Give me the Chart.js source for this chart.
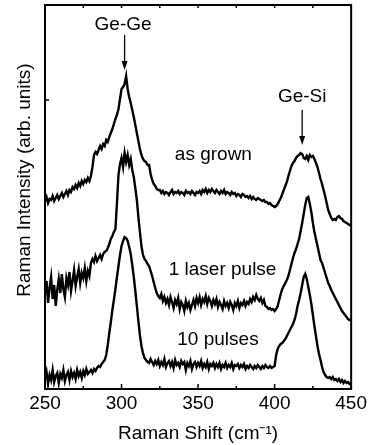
<!DOCTYPE html>
<html>
<head>
<meta charset="utf-8">
<script src="https://cdn.jsdelivr.net/npm/chart.js@4.4.1/dist/chart.umd.min.js"></script>
<style>
  html, body { margin: 0; padding: 0; background: #fff; }
  #wrap { width: 370px; height: 445px; }
</style>
</head>
<body>
<div id="wrap"><canvas id="ramanChart"></canvas></div>
<script>
// Raman shift axis (cm-1), one value per cm-1
const shift = []
for (let s = 250; s <= 450; s++) shift.push(s)

// intensities (arb. units, traces offset)
const asGrown = [
  188, 192, 186, 190, 189, 193, 188, 191, 194, 190,
  193, 196, 192, 195, 198, 194, 199, 197, 202, 200,
  204, 201, 206, 203, 208, 205, 209, 207, 211, 208,
  213, 222, 234, 237, 235, 239, 243, 240, 245, 243,
  249, 247, 252, 256, 260, 265, 270, 274, 280, 290,
  300, 302, 305, 313, 300, 292, 286, 279, 272, 264,
  256, 248, 240, 234, 230, 228, 227, 224, 224, 215,
  209, 205, 203, 200, 199, 199, 196, 198, 195, 197,
  196, 194, 197, 199, 195, 197, 196, 198, 195, 197,
  196, 194, 198, 196, 197, 195, 198, 196, 194, 197,
  196, 198, 195, 199, 197, 200, 196, 199, 197, 200,
  198, 196, 199, 197, 195, 198, 196, 199, 195, 197,
  196, 194, 197, 195, 196, 193, 195, 194, 192, 195,
  194, 192, 193, 191, 193, 190, 192, 190, 189, 191,
  190, 189, 188, 189, 187, 187, 185, 186, 184, 183,
  182, 183, 185, 188, 191, 195, 199, 203, 207, 213,
  218, 223, 226, 228, 231, 233, 234, 236, 235, 231,
  230, 233, 229, 234, 232, 233, 230, 226, 222, 216,
  210, 205, 199, 193, 186, 179, 175, 171, 169, 170,
  169, 172, 173, 171, 170, 168, 167, 166, 165, 164,
  163,
]
const onePulse = [
  95, 108, 86, 101, 112, 90, 104, 83, 99, 110,
  96, 115, 100, 92, 111, 104, 117, 98, 108, 119,
  103, 112, 120, 106, 116, 111, 121, 108, 118, 113,
  126, 130, 127, 133, 128, 131, 134, 130, 135, 137,
  138, 141, 145, 150, 153, 157, 160, 186, 214, 225,
  231, 222, 236, 227, 234, 224, 230, 219, 212, 201,
  189, 172, 157, 143, 134, 130, 128, 125, 123, 118,
  113, 107, 101, 96, 93, 91, 95, 88, 92, 86,
  90, 84, 92, 87, 81, 89, 85, 91, 80, 87,
  84, 78, 88, 82, 86, 79, 84, 89, 83, 91,
  86, 92, 84, 90, 87, 93, 85, 91, 88, 83,
  89, 85, 90, 82, 87, 84, 80, 88, 83, 86,
  81, 87, 84, 79, 86, 83, 88, 81, 86, 84,
  88, 83, 87, 85, 90, 87, 92, 89, 94, 90,
  88, 91, 86, 89, 83, 82, 80, 81, 79, 80,
  78, 80, 83, 89, 95, 100, 103, 106, 109, 113,
  119, 125, 131, 136, 140, 145, 150, 158, 166, 175,
  184, 191, 192, 185, 177, 166, 157, 150, 143, 136,
  129, 126, 121, 116, 111, 106, 103, 99, 96, 93,
  90, 87, 84, 81, 78, 76, 74, 72, 70, 69,
  68,
]
const tenPulses = [
  10, 17, 5, 14, 9, 19, 7, 13, 16, 6,
  15, 11, 19, 8, 14, 17, 9, 18, 12, 16,
  10, 19, 13, 17, 11, 18, 14, 20, 15, 17,
  19, 16, 20, 18, 21, 23, 22, 25, 27, 29,
  34, 44, 56, 67, 79, 89, 100, 112, 123, 134,
  143, 148, 152, 151, 148, 142, 135, 124, 112, 98,
  83, 68, 54, 43, 36, 31, 29, 27, 26, 30,
  27, 24, 28, 25, 29, 23, 27, 24, 30, 22,
  26, 28, 23, 27, 21, 29, 24, 26, 22, 28,
  25, 27, 19, 26, 23, 28, 20, 25, 27, 22,
  26, 23, 28, 21, 25, 22, 27, 20, 25, 23,
  26, 21, 25, 22, 26, 20, 24, 22, 26, 21,
  24, 22, 26, 20, 24, 23, 25, 21, 24, 22,
  25, 20, 23, 21, 24, 22, 20, 23, 21, 24,
  22, 20, 23, 21, 24, 22, 21, 23, 21, 22,
  23, 34, 40, 43, 45, 46, 48, 50, 53, 56,
  59, 62, 65, 69, 75, 83, 89, 96, 104, 112,
  115, 110, 102, 94, 85, 74, 63, 53, 43, 35,
  29, 22, 17, 14, 12, 11, 12, 10, 12, 9,
  10, 8, 10, 7, 9, 6, 8, 6, 7, 5,
  6,
]

const xTicks = [250, 300, 350, 400, 450]
const xMinor = [275, 325, 375, 425]

// text labels: [text, shift, intensity]
const traceLabels = [
  ['as grown', 360, 234],
  ['1 laser pulse', 366, 119],
  ['10 pulses', 363, 49],
]
const peakLabels = [
  ['Ge-Ge', 301, 364],
  ['Ge-Si', 418, 292],
]
// arrows: [shift, from, to]
const peakArrows = [
  [302, 354, 319],
  [418, 279, 244],
]

const FONT = 'Liberation Sans, Arial, sans-serif'

const toPoints = (ys) => ys.map((y, i) => ({ x: shift[i], y }))

const frame = {
  id: 'frame',
  afterDatasetsDraw(chart) {
    const { ctx, chartArea: a, scales } = chart
    const xs = scales.x
    const ys = scales.y
    ctx.save()
    ctx.strokeStyle = '#000'
    ctx.fillStyle = '#000'
    ctx.lineWidth = 2
    ctx.strokeRect(a.left, a.top, a.right - a.left, a.bottom - a.top)

    ctx.lineWidth = 1.5
    ctx.beginPath()
    xTicks.forEach((v) => {
      const px = xs.getPixelForValue(v)
      ctx.moveTo(px, a.bottom)
      ctx.lineTo(px, a.bottom - 5)
      ctx.moveTo(px, a.top)
      ctx.lineTo(px, a.top + 3)
    })
    xMinor.forEach((v) => {
      const px = xs.getPixelForValue(v)
      ctx.moveTo(px, a.bottom)
      ctx.lineTo(px, a.bottom - 3)
      ctx.moveTo(px, a.top)
      ctx.lineTo(px, a.top + 3)
    })
    const yt = ys.getPixelForValue(289)
    ctx.moveTo(a.left, yt)
    ctx.lineTo(a.left + 4, yt)
    ctx.stroke()

    // labels
    ctx.font = '19px ' + FONT
    ctx.textAlign = 'center'
    ctx.textBaseline = 'middle'
    traceLabels.concat(peakLabels).forEach(([t, sx, sy]) => {
      ctx.fillText(t, xs.getPixelForValue(sx), ys.getPixelForValue(sy))
    })

    // y axis title, sits a bit above the middle like the original
    ctx.save()
    ctx.translate(25, 180)
    ctx.rotate(-Math.PI / 2)
    ctx.fillText('Raman Intensity (arb. units)', 0, 0)
    ctx.restore()

    // arrows
    ctx.lineWidth = 1.3
    peakArrows.forEach(([sx, y0, y1]) => {
      const px = xs.getPixelForValue(sx)
      const p0 = ys.getPixelForValue(y0)
      const p1 = ys.getPixelForValue(y1)
      ctx.beginPath()
      ctx.moveTo(px, p0)
      ctx.lineTo(px, p1 - 6)
      ctx.stroke()
      ctx.beginPath()
      ctx.moveTo(px, p1)
      ctx.lineTo(px - 3, p1 - 9)
      ctx.lineTo(px + 3, p1 - 9)
      ctx.closePath()
      ctx.fill()
    })
    ctx.restore()
  },
}

const line = (label, ys) => ({
  label,
  data: toPoints(ys),
  borderColor: '#000',
  borderWidth: 2.4,
  pointRadius: 0,
  tension: 0,
})

new Chart(document.getElementById('ramanChart'), {
  type: 'line',
  data: {
    datasets: [
      line('as grown', asGrown),
      line('1 laser pulse', onePulse),
      line('10 pulses', tenPulses),
    ],
  },
  options: {
    responsive: true,
    maintainAspectRatio: false,
    animation: false,
    layout: { padding: { top: 5, right: 17, left: 0, bottom: 0 } },
    plugins: {
      legend: { display: false },
      tooltip: { enabled: false },
    },
    scales: {
      x: {
        type: 'linear',
        min: 250,
        max: 450,
        afterFit: (s) => { s.height = 56 },
        afterBuildTicks: (s) => { s.ticks = xTicks.map((v) => ({ value: v })) },
        grid: { display: false, drawTicks: false },
        border: { display: false },
        ticks: {
          color: '#000',
          padding: 3,
          maxRotation: 0,
          font: { family: FONT, size: 19 },
        },
        title: {
          display: true,
          text: 'Raman Shift (cm⁻¹)',
          color: '#000',
          padding: { top: 0, bottom: 0 },
          font: { family: FONT, size: 19 },
        },
      },
      y: {
        min: 0,
        max: 384,
        afterFit: (s) => { s.width = 45 },
        grid: { display: false, drawTicks: false },
        border: { display: false },
        ticks: { display: false },
        title: { display: false, text: 'Raman Intensity (arb. units)' },
      },
    },
  },
  plugins: [frame],
})
</script>
</body>
</html>
